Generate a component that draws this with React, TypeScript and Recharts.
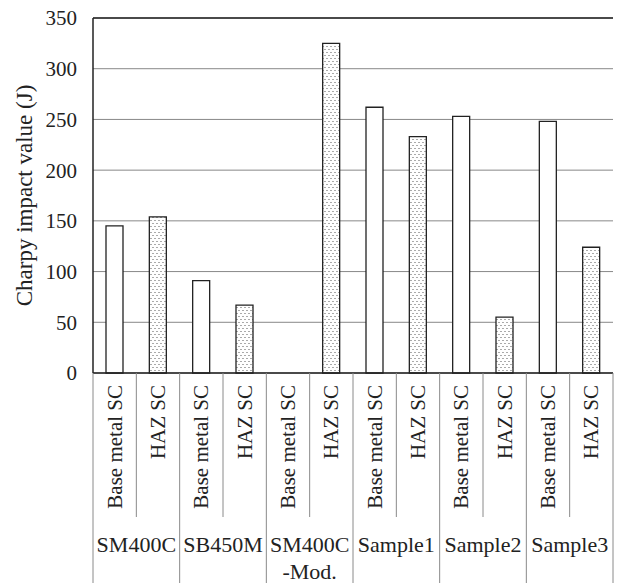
import React from 'react';
import { BarChart, Bar, XAxis, YAxis, CartesianGrid, Cell, ReferenceLine } from 'recharts';

const groups = ['SM400C', 'SB450M', 'SM400C\n-Mod.', 'Sample1', 'Sample2', 'Sample3'];
const kinds = ['Base metal SC', 'HAZ SC'];
const values = [145, 154, 91, 67, 0, 325, 262, 233, 253, 55, 248, 124];
const yTicks = [0, 50, 100, 150, 200, 250, 300, 350];

const data = values.map((v, i) => ({
  id: `${groups[Math.floor(i / 2)]}-${i % 2}`,
  kind: kinds[i % 2],
  group: groups[Math.floor(i / 2)],
  value: v,
}));

const W = 624;
const H = 583;
const M = { top: 18, right: 11, left: 0, bottom: 0 };
const Y_W = 93;
const X_H = 210;
const SLOT = (W - M.right - Y_W) / data.length;
const FONT = 'Liberation Serif, Times New Roman, serif';
const DIV = '#8a8a8a';
const TXT = { fontFamily: FONT, fill: '#222' };

const XTick = (props: any) => {
  const { x, y, index } = props;
  const d = data[index];
  const left = x - SLOT / 2;
  const isFirst = index % 2 === 0;
  const lines = d.group.split('\n');
  return (
    <g>
      <line x1={left} y1={y} x2={left} y2={isFirst ? H : y + 144} stroke={DIV} strokeWidth={1} />
      {index === data.length - 1 && (
        <line x1={x + SLOT / 2} y1={y} x2={x + SLOT / 2} y2={H} stroke={DIV} strokeWidth={1} />
      )}
      <text
        x={x}
        y={y + 12}
        transform={`rotate(-90, ${x}, ${y + 12})`}
        textAnchor="end"
        dominantBaseline="central"
        fontSize={21}
        style={TXT}
      >
        {d.kind}
      </text>
      {isFirst &&
        lines.map((t: string, k: number) => (
          <text key={k} x={x + SLOT / 2} y={y + 179 + k * 27} textAnchor="middle" fontSize={22} style={TXT}>
            {t}
          </text>
        ))}
    </g>
  );
};

const App = () => {
  return (
    <div style={{ position: 'absolute', left: 0, top: 0, background: '#fff' }}>
      <BarChart width={W} height={H} data={data} margin={M} barCategoryGap={0}>
        <defs>
          <pattern id="dots" width="4" height="6" patternUnits="userSpaceOnUse">
            <rect width="4" height="6" fill="#fff" />
            <circle cx="1" cy="1.5" r="0.6" fill="#444" />
            <circle cx="3" cy="4.5" r="0.6" fill="#444" />
          </pattern>
        </defs>
        <CartesianGrid vertical={false} stroke="#888" strokeWidth={1} yAxisId="l" />
        <XAxis
          dataKey="id"
          height={X_H}
          interval={0}
          tickLine={false}
          tickSize={0}
          tickMargin={0}
          axisLine={{ stroke: '#222', strokeWidth: 1.5 }}
          tick={<XTick />}
        />
        <YAxis
          yAxisId="l"
          width={Y_W}
          domain={[0, 350]}
          ticks={yTicks}
          tickLine={false}
          tickMargin={10}
          axisLine={{ stroke: '#222', strokeWidth: 1.5 }}
          tick={{ fontSize: 21, ...TXT }}
          label={{
            value: 'Charpy impact value (J)',
            angle: -90,
            position: 'insideLeft',
            offset: 24,
            style: { fontSize: 23, ...TXT, textAnchor: 'middle' },
          }}
        />
        <YAxis
          yAxisId="r"
          orientation="right"
          width={0}
          domain={[0, 350]}
          tick={false}
          tickLine={false}
          axisLine={{ stroke: '#222', strokeWidth: 1.5 }}
        />
        <ReferenceLine yAxisId="l" y={350} stroke="#222" strokeWidth={1.5} />
        <Bar yAxisId="l" dataKey="value" barSize={17} stroke="#222" strokeWidth={1.3} isAnimationActive={false}>
          {data.map((d, i) => (
            <Cell key={d.id} fill={i % 2 === 0 ? '#fff' : 'url(#dots)'} />
          ))}
        </Bar>
      </BarChart>
    </div>
  );
};

export default App;
